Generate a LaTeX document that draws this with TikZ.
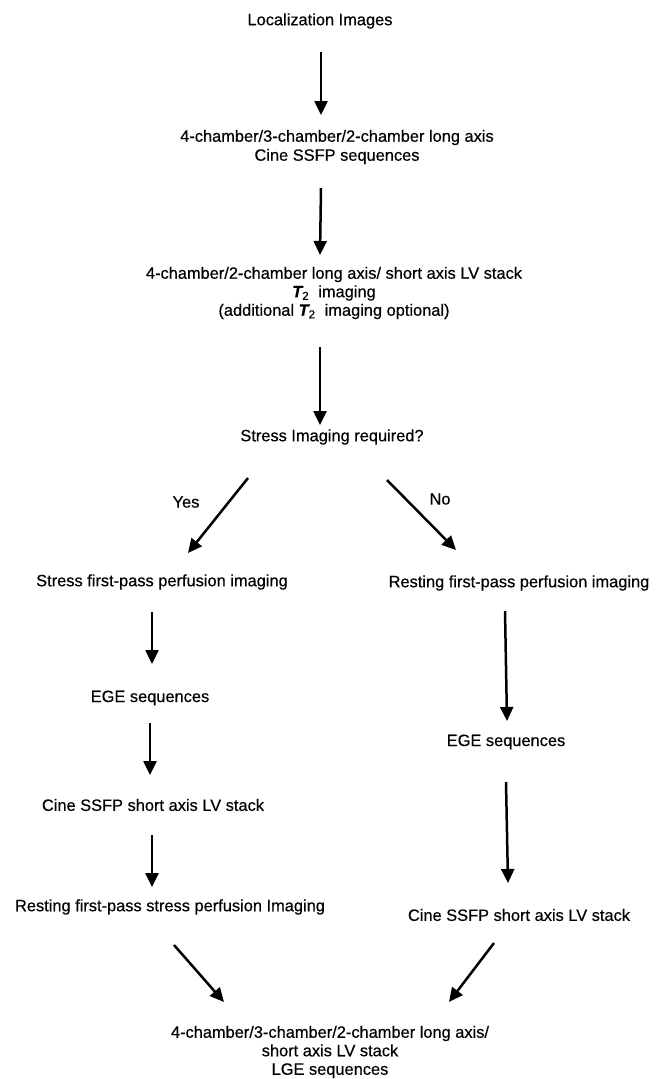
\documentclass[tikz,border=0pt]{standalone}
\usepackage{fontspec}
\setmainfont{Liberation Sans}[FakeBold=0.4]
\usetikzlibrary{arrows.meta,calc}
\tikzset{
  txt/.style={inner sep=0pt, align=center, font=\fontsize{16.4}{19}\selectfont},
  txtb/.style={inner sep=0pt, align=center, font=\fontsize{16.4}{18.5}\selectfont},
  arr/.style={line width=2.5pt, -{Triangle[length=14pt,width=13pt]}}
}
\newcommand{\Ttwo}{{\bfseries\itshape T}\textsubscript{2}}
\begin{document}
\begin{tikzpicture}[x={(1pt,0pt)}, y={(0pt,-1pt)}]
\useasboundingbox (0,0) rectangle (658,1079);
\node[txt] (n1) at (320,21) {Localization Images};
\node[txt] (n2) at (337,147) {4-chamber/3-chamber/2-chamber long axis\\Cine SSFP sequences};
\node[txtb] (n3) at (334,293) {4-chamber/2-chamber long axis/ short axis LV stack\\\Ttwo\ \ imaging\\(additional \Ttwo\ \ imaging optional)};
\node[txt] (n4) at (332,437) {Stress Imaging required?};
\node[txt] (yes) at (186,502) {Yes};
\node[txt] (no) at (440,499) {No};
\node[txt] (n5L) at (162,582) {Stress first-pass perfusion imaging};
\node[txt] (n5R) at (519,583) {Resting first-pass perfusion imaging};
\node[txt] (n6L) at (150,698) {EGE sequences};
\node[txt] (n7L) at (153,805) {Cine SSFP short axis LV stack};
\node[txt] (n8L) at (170,907) {Resting first-pass stress perfusion Imaging};
\node[txt] (n6R) at (506,742) {EGE sequences};
\node[txt] (n7R) at (519,915) {Cine SSFP short axis LV stack};
\node[txtb] (n9) at (330,1052) {4-chamber/3-chamber/2-chamber long axis/\\short axis LV stack\\LGE sequences};

\draw[arr] ($(n1)+(1,31)$) -- ($(n2)+(-16,-32)$);
\draw[arr] ($(n2)+(-16,41)$) -- ($(n3)+(-14,-38)$);
\draw[arr] ($(n3)+(-14,54)$) -- ($(n4)+(-12,-12)$);
\draw[arr] ($(n4)+(-84,41)$) -- ($(n5L)+(26,-29)$);
\draw[arr] ($(n4)+(55,43)$) -- ($(n5R)+(-63,-33)$);
\draw[arr] ($(n5L)+(-10,30)$) -- ($(n6L)+(2,-34)$);
\draw[arr] ($(n6L)+(0,25)$) -- ($(n7L)+(-3,-30)$);
\draw[arr] ($(n7L)+(-1,30)$) -- ($(n8L)+(-18,-20)$);
\draw[arr] ($(n5R)+(-14,28)$) -- ($(n6R)+(1,-21)$);
\draw[arr] ($(n6R)+(0,40)$) -- ($(n7R)+(-11,-32)$);
\draw[arr] ($(n8L)+(4,38)$) -- ($(n9)+(-106,-50)$);
\draw[arr] ($(n7R)+(-25,28)$) -- ($(n9)+(119,-50)$);
\end{tikzpicture}
\end{document}
